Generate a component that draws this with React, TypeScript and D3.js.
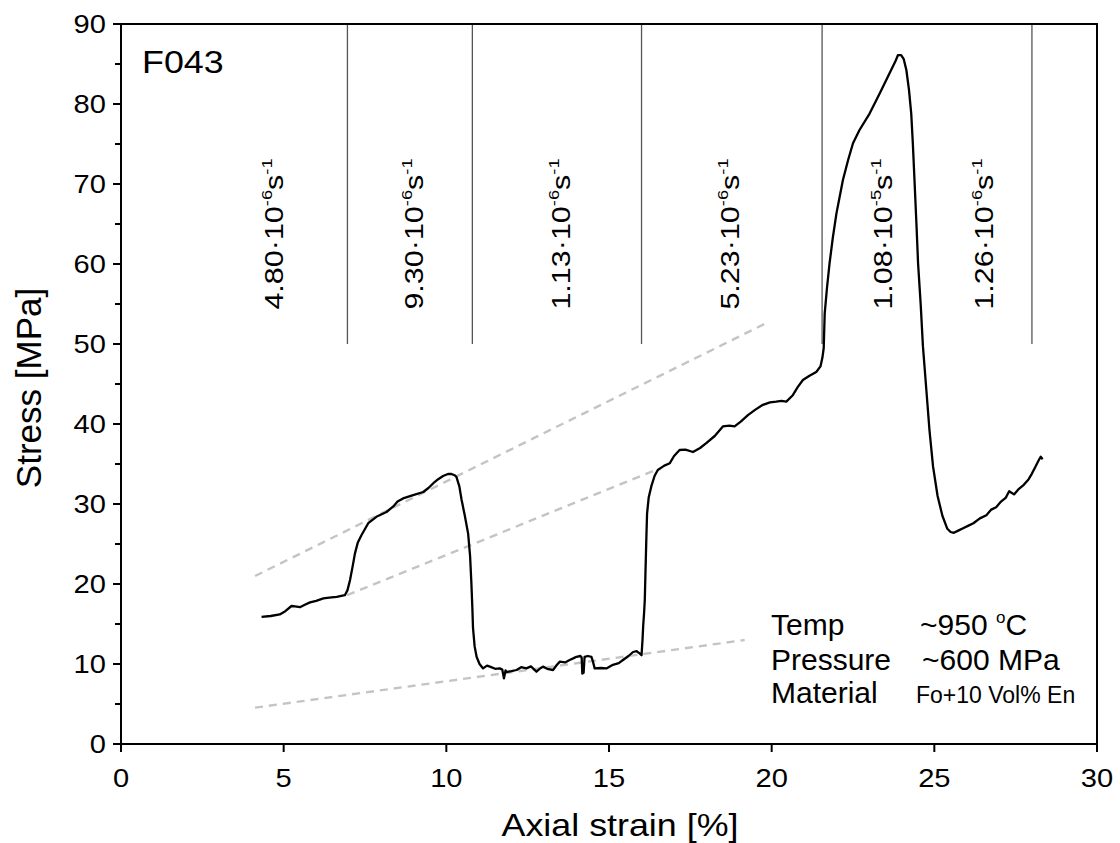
import React from 'react';
import * as d3 from 'd3';

// ---- data ----
const strain = [4.32,4.6,4.88,5.05,5.24,5.35,5.5,5.65,5.81,6.0,6.22,6.4,6.63,6.88,6.96,7.04,7.12,7.19,7.28,7.39,7.6,7.85,8.16,8.37,8.5,8.67,8.98,9.29,9.45,9.6,9.75,9.9,10.05,10.16,10.25,10.31,10.4,10.47,10.57,10.67,10.73,10.77,10.8,10.82,10.87,10.93,11.02,11.13,11.25,11.34,11.5,11.64,11.72,11.77,11.82,11.85,12.0,12.16,12.3,12.46,12.6,12.77,12.9,12.97,13.1,13.28,13.4,13.49,13.65,13.79,13.9,14.0,14.12,14.16,14.18,14.22,14.25,14.35,14.46,14.5,14.56,14.75,14.92,15.12,15.3,15.43,15.6,15.74,15.85,15.95,16.0,16.03,16.05,16.08,16.1,16.12,16.15,16.17,16.22,16.3,16.4,16.5,16.7,16.87,17.0,17.17,17.35,17.58,17.8,17.99,18.25,18.5,18.7,18.86,19.05,19.27,19.5,19.73,19.95,20.14,20.3,20.45,20.65,20.8,20.96,21.15,21.37,21.5,21.56,21.6,21.63,21.7,21.78,21.88,21.99,22.19,22.35,22.5,22.7,23.01,23.32,23.62,23.8,23.88,23.98,24.06,24.14,24.22,24.29,24.34,24.39,24.45,24.5,24.58,24.65,24.75,24.85,24.96,25.1,25.25,25.4,25.5,25.6,25.75,25.9,26.05,26.2,26.4,26.6,26.75,26.9,27.05,27.2,27.3,27.45,27.6,27.75,27.9,28.0,28.1,28.2,28.27,28.33];
const stress = [15.9,16.0,16.2,16.6,17.25,17.2,17.1,17.4,17.7,17.9,18.2,18.3,18.4,18.6,19.2,20.5,22.2,23.8,25.2,26.1,27.6,28.4,29.0,29.7,30.3,30.7,31.1,31.5,32.0,32.6,33.1,33.5,33.75,33.75,33.6,33.4,32.2,30.5,28.5,26.3,23.5,20.1,17.0,14.5,12.2,10.9,10.0,9.45,9.8,9.67,9.4,9.45,9.3,8.2,9.2,9.0,9.1,9.25,9.6,9.45,9.7,9.04,9.5,9.67,9.4,9.25,9.9,10.3,10.2,10.5,10.7,10.9,11.0,10.8,8.8,8.9,10.9,11.0,10.9,10.4,9.45,9.5,9.45,9.9,10.1,10.5,11.0,11.5,11.6,11.3,11.1,13.0,14.7,16.5,18.0,21.3,26.0,28.8,30.8,32.2,33.5,34.25,34.8,35.1,36.0,36.75,36.8,36.5,37.0,37.6,38.5,39.7,39.8,39.7,40.3,41.1,41.8,42.4,42.7,42.8,42.9,42.8,43.6,44.6,45.5,46.0,46.5,47.2,48.3,49.5,53.8,57.0,60.1,63.3,66.3,70.5,73.0,75.1,76.75,78.8,81.3,83.8,85.3,86.1,86.1,85.6,84.25,81.8,78.8,75.0,70.5,65.0,60.1,55.0,49.7,44.5,39.25,34.7,31.0,28.5,26.9,26.5,26.4,26.7,27.0,27.3,27.6,28.2,28.6,29.3,29.6,30.3,30.8,31.6,31.2,31.9,32.4,33.1,33.8,34.6,35.4,35.9,35.6];

const xTicks = [0, 5, 10, 15, 20, 25, 30];
const yTicks = [0, 10, 20, 30, 40, 50, 60, 70, 80, 90];
const yMinorTicks = [5, 15, 25, 35, 45, 55, 65, 75, 85];

// strain-rate step boundaries (strain %), drawn from top down to 50 MPa
const rateBoundaries = [6.96, 10.8, 16.0, 21.55, 28.0];
const rateMantissas = ['4.80', '9.30', '1.13', '5.23', '1.08', '1.26'];
const rateExponents = ['-6', '-6', '-6', '-6', '-5', '-6'];
const rateLabelStrain = [4.98, 9.28, 13.8, 19.0, 23.7, 26.8];
const rateLabelStress = 63.75;

// dashed grey trend lines: [x1, y1, x2, y2]
const trendX1 = [4.12, 6.95, 4.12];
const trendY1 = [21.0, 18.6, 4.54];
const trendX2 = [19.83, 16.46, 19.17];
const trendY2 = [52.6, 34.3, 13.0];

const infoKeys = ['Temp', 'Pressure', 'Material'];

const FONT = "'Liberation Sans', Arial, sans-serif";

export default function App() {
  const x = d3.scaleLinear().domain([0, 30]).range([121, 1097]);
  const y = d3.scaleLinear().domain([0, 90]).range([744, 24]);
  const pts: [number, number][] = strain.map((s, i) => [s, stress[i]]);
  const line = d3.line<[number, number]>().x(d => x(d[0])).y(d => y(d[1]));

  const sx = 1.12;

  return (
    <svg width={1120} height={843} style={{ position: 'absolute', left: 0, top: 0, display: 'block', background: '#fff' }} fontFamily={FONT}>
      <rect x={0} y={0} width={1120} height={843} fill="#fff" />
      {/* trend lines */}
      {trendX1.map((_, i) => (
        <line key={'t' + i} x1={x(trendX1[i])} y1={y(trendY1[i])} x2={x(trendX2[i])} y2={y(trendY2[i])}
          stroke="#c4c4c4" strokeWidth={2.4} strokeDasharray="8,6" />
      ))}
      {/* separators */}
      {rateBoundaries.map((b, i) => (
        <line key={'b' + i} x1={x(b)} x2={x(b)} y1={y(90)} y2={y(50)} stroke="#555" strokeWidth={1.3} />
      ))}
      {/* curve */}
      <path d={line(pts) || ''} fill="none" stroke="#000" strokeWidth={2.3} strokeLinejoin="round" />

      {/* frame */}
      <rect x={x(0)} y={y(90)} width={x(30) - x(0)} height={y(0) - y(90)} fill="none" stroke="#000" strokeWidth={2} />

      {/* y ticks */}
      {yTicks.map(t => (
        <g key={'yt' + t}>
          <line x1={x(0) - 8} x2={x(0)} y1={y(t)} y2={y(t)} stroke="#000" strokeWidth={2} />
          <g transform={`translate(${x(0) - 15},${y(t) + 9}) scale(${sx},1)`}>
            <text textAnchor="end" fontSize={26} fill="#000">{t}</text>
          </g>
        </g>
      ))}
      {yMinorTicks.map(t => (
        <line key={'ym' + t} x1={x(0) - 6} x2={x(0)} y1={y(t)} y2={y(t)} stroke="#000" strokeWidth={2} />
      ))}
      {/* x ticks */}
      {xTicks.map(t => (
        <g key={'xt' + t}>
          <line x1={x(t)} x2={x(t)} y1={y(0)} y2={y(0) + 8} stroke="#000" strokeWidth={2} />
          <g transform={`translate(${x(t)},${y(0) + 43}) scale(${sx},1)`}>
            <text textAnchor="middle" fontSize={26} fill="#000">{t}</text>
          </g>
        </g>
      ))}

      {/* axis titles */}
      <g transform={`translate(620,836) scale(${sx},1)`}>
        <text textAnchor="middle" fontSize={32} fill="#000">Axial strain [%]</text>
      </g>
      <g transform={`translate(41,${(y(0) + y(90)) / 2 + 4}) rotate(-90)`}>
        <text textAnchor="middle" fontSize={35} fill="#000">Stress [MPa]</text>
      </g>

      {/* sample name */}
      <g transform={`translate(142,73) scale(${sx},1)`}>
        <text fontSize={32} fill="#000">F043</text>
      </g>

      {/* rate labels */}
      {rateMantissas.map((m, i) => (
        <g key={'r' + i} transform={`translate(${x(rateLabelStrain[i])},${y(rateLabelStress)}) rotate(-90) scale(1.22,1)`}>
          <text textAnchor="middle" fontSize={25} fill="#000">
            {m}·10<tspan dy={-11} fontSize={15}>{rateExponents[i]}</tspan><tspan dy={11}>s</tspan><tspan dy={-11} fontSize={15}>-1</tspan>
          </text>
        </g>
      ))}

      {/* experiment info */}
      <text x={771} y={635} fontSize={30} fill="#000">{infoKeys[0]}</text>
      <text x={771} y={670} fontSize={30} fill="#000">{infoKeys[1]}</text>
      <text x={771} y={703} fontSize={30} fill="#000">{infoKeys[2]}</text>
      <text x={920} y={635} fontSize={30} fill="#000">~950 <tspan dy={-12} fontSize={17}>o</tspan><tspan dy={12}>C</tspan></text>
      <text x={922} y={670} fontSize={30} fill="#000">~600 MPa</text>
      <text x={916} y={703} fontSize={23} fill="#000">Fo+10 Vol% En</text>
    </svg>
  );
}
